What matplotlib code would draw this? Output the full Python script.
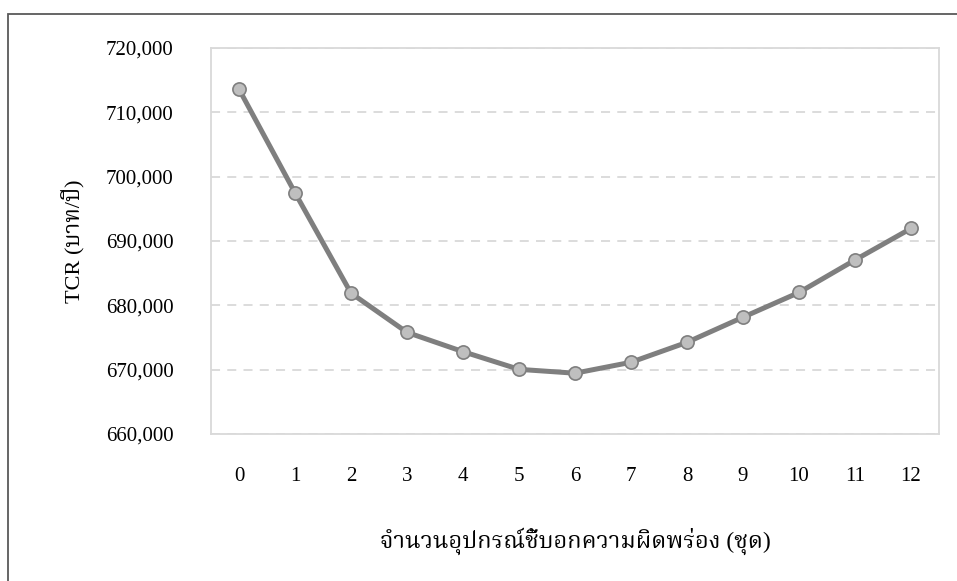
import matplotlib
matplotlib.use("Agg")
import matplotlib.pyplot as plt
from matplotlib import font_manager
from matplotlib.ft2font import FT2Font
from matplotlib.patches import Rectangle
from matplotlib.ticker import FuncFormatter

# values
devices = list(range(13))
tcr = [713600, 697500, 681900, 675800, 672800, 670050, 669450,
       671150, 674250, 678150, 682000, 687050, 691950]
y_ticks = [660000, 670000, 680000, 690000, 700000, 710000, 720000]

X_LABEL = "จำนวนอุปกรณ์ชี้บอกความผิดพร่อง (ชุด)"
Y_LABEL = "TCR (บาท/ปี)"

PREFERRED_THAI = ["TH Sarabun New", "TH SarabunPSK", "Angsana New",
                  "Noto Serif Thai", "Norasi", "Kinnari", "Laksaman",
                  "Noto Sans Thai Looped", "Noto Sans Thai"]


def find_thai_family():
    found = []
    for entry in font_manager.fontManager.ttflist:
        try:
            if 0x0E08 in FT2Font(entry.fname).get_charmap():
                found.append(entry.name)
        except Exception:
            continue
    for name in PREFERRED_THAI:
        if name in found:
            return name
    return found[0] if found else None


families = ["Liberation Serif"]
thai = find_thai_family()
if thai:
    families.append(thai)
families.append("DejaVu Sans")
plt.rcParams["font.family"] = families

W, H = 957, 581
fig = plt.figure(figsize=(W / 100, H / 100), dpi=100)
ax = fig.add_axes([211 / W, 1 - 434 / H, (939 - 211) / W, (434 - 48) / H])

# outer chart border (runs off the right and bottom of the image)
fig.patches.append(Rectangle((8 / W, -0.1), 1.2, 1 - 14 / H + 0.1,
                             transform=fig.transFigure, fill=False,
                             edgecolor="#595959", linewidth=1.3))

ax.plot(devices, tcr, color="#7f7f7f", linewidth=3.6, marker="o",
        markersize=9.5, markerfacecolor="#bfbfbf", markeredgecolor="#7f7f7f",
        markeredgewidth=1.2, zorder=3)

ax.set_xlim(-0.5, 12.5)
ax.set_ylim(660000, 720000)
ax.set_xticks(devices)
ax.set_yticks(y_ticks)
ax.yaxis.set_major_formatter(FuncFormatter(lambda v, p: f"{v:,.0f}"))

ax.grid(axis="y", color="#d9d9d9", linestyle=(0, (5, 4)), linewidth=1.3)
ax.set_axisbelow(True)
for s in ax.spines.values():
    s.set_color("#d9d9d9")
    s.set_linewidth(1.3)

ax.tick_params(axis="both", length=0, labelsize=15, colors="#000000")
ax.tick_params(axis="y", pad=27)
ax.tick_params(axis="x", pad=24)

ax.set_xlabel(X_LABEL, fontsize=17, va="center")
ax.xaxis.set_label_coords(0.5, -(541 - 434) / 386)
ax.set_ylabel(Y_LABEL, fontsize=16)
ax.yaxis.set_label_coords(-(211 - 84) / 728, 0.5)

fig.savefig("out.png", dpi=100)
